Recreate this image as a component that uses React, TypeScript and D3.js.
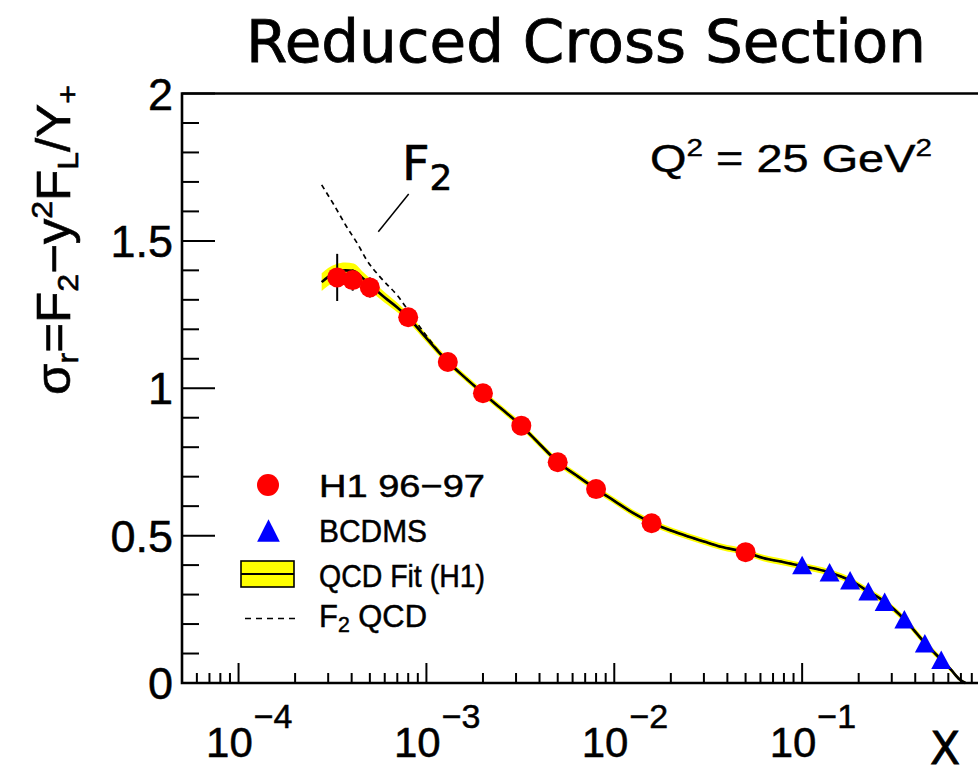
import React from "react";
import * as d3 from "d3";

const W = 978;
const H = 777;

// H1 96-97 reduced cross section at Q^2 = 25 GeV^2
const h1X = [3.35e-4, 4.05e-4, 5.0e-4, 8.0e-4, 1.3e-3, 2.0e-3, 3.2e-3, 5.0e-3, 8.0e-3, 1.58e-2, 5.0e-2];
const h1Y = [1.376, 1.367, 1.342, 1.241, 1.089, 0.983, 0.873, 0.749, 0.658, 0.542, 0.444];
const h1Err = [0.08, 0.036, 0.034, 0.03, 0.025, 0.022, 0.02, 0.018, 0.016, 0.015, 0.015];

// BCDMS
const bcdmsX = [0.1, 0.14, 0.18, 0.225, 0.275, 0.35, 0.45, 0.55];
const bcdmsY = [0.4, 0.376, 0.349, 0.311, 0.276, 0.216, 0.135, 0.079];

// QCD fit (H1): central value and band half-width
const fitX = [
  2.77e-4, 3.0e-4, 3.3e-4, 3.7e-4, 4.1e-4, 4.6e-4, 5.2e-4, 6.0e-4, 7.0e-4, 8.0e-4,
  1.0e-3, 1.3e-3, 1.6e-3, 2.0e-3, 2.5e-3, 3.2e-3, 4.0e-3, 5.0e-3, 6.3e-3, 8.0e-3,
  1.0e-2, 1.25e-2, 1.6e-2, 2.2e-2, 3.0e-2, 3.7e-2, 5.0e-2, 6.2e-2, 8.0e-2, 0.1,
  0.14, 0.18, 0.225, 0.275, 0.35, 0.45, 0.55, 0.62, 0.69, 0.74,
];
const fitY = [
  1.36, 1.378, 1.392, 1.4, 1.398, 1.372, 1.342, 1.308, 1.274, 1.24,
  1.17, 1.09, 1.037, 0.983, 0.931, 0.873, 0.811, 0.75, 0.704, 0.658,
  0.618, 0.578, 0.542, 0.508, 0.48, 0.462, 0.444, 0.424, 0.41, 0.397,
  0.375, 0.348, 0.311, 0.276, 0.216, 0.136, 0.079, 0.045, 0.012, 0.0,
];
const fitErr = [
  0.03, 0.03, 0.029, 0.027, 0.025, 0.022, 0.02, 0.018, 0.016, 0.015,
  0.013, 0.012, 0.011, 0.011, 0.011, 0.011, 0.011, 0.011, 0.011, 0.011,
  0.011, 0.011, 0.011, 0.011, 0.011, 0.011, 0.011, 0.011, 0.011, 0.011,
  0.011, 0.011, 0.011, 0.011, 0.011, 0.011, 0.01, 0.008, 0.006, 0.004,
];

// F2 from the QCD fit, where it departs from sigma_r at low x
const f2LowX = [2.77e-4, 3.2e-4, 3.76e-4, 4.3e-4, 4.81e-4, 5.66e-4, 7.08e-4, 8.6e-4, 1.0e-3];
const f2LowY = [1.69, 1.625, 1.548, 1.49, 1.435, 1.378, 1.311, 1.235, 1.178];

const xDecades = [1e-4, 1e-3, 1e-2, 1e-1];
const xExponents = ["4", "3", "2", "1"];
const yTickLabels = ["0", "0.5", "1", "1.5", "2"];

const x = d3.scaleLog().domain([5e-5, 1]).range([182, 990]);
const y = d3.scaleLinear().domain([0, 2]).range([683, 93.5]);

const fitPts = fitX.map((v, i) => ({ x: v, y: fitY[i], e: fitErr[i] }));
const f2Pts = [
  ...f2LowX.map((v, i) => ({ x: v, y: f2LowY[i] })),
  ...fitPts.filter((d) => d.x > 1.0e-3),
];

const band = d3
  .area<{ x: number; y: number; e: number }>()
  .x((d) => x(d.x))
  .y0((d) => y(d.y - d.e))
  .y1((d) => y(d.y + d.e))
  .curve(d3.curveMonotoneX);

const line = d3
  .line<{ x: number; y: number }>()
  .x((d) => x(d.x))
  .y((d) => y(d.y))
  .curve(d3.curveMonotoneX);

const SANS = "'Liberation Sans', Arial, sans-serif";
const ROUND = "'DejaVu Sans', sans-serif";

function triangle(cx: number, cy: number, w: number, h: number) {
  return `M${cx},${cy - h / 2}L${cx + w / 2},${cy + h / 2}L${cx - w / 2},${cy + h / 2}Z`;
}

export default function App() {
  const xTicks = x.ticks();
  const yTicks = d3.range(0, 21).map((i) => i / 10);
  const [x0, x1] = x.range();
  const [yb, yt] = y.range();

  return (
    <svg width={W} height={H} style={{ display: "block", position: "absolute", left: 0, top: 0, background: "#fff" }}>
      <rect width={W} height={H} fill="#fff" />

      {/* title */}
      <text x={246} y={62} fontFamily={ROUND} fontSize={58} textLength={680} lengthAdjust="spacingAndGlyphs" stroke="#000" strokeWidth={0.8}>
        Reduced Cross Section
      </text>

      {/* fit band, fit line, F2 line */}
      <path d={band(fitPts) ?? ""} fill="#ffff00" stroke="none" />
      <path d={line(fitPts) ?? ""} fill="none" stroke="#000" strokeWidth={2.6} />
      <path d={line(f2Pts) ?? ""} fill="none" stroke="#000" strokeWidth={1.7} strokeDasharray="5,4" />

      {/* H1 points with error bars */}
      {h1X.map((v, i) => (
        <g key={`h1-${i}`}>
          <line x1={x(v)} x2={x(v)} y1={y(h1Y[i] - h1Err[i])} y2={y(h1Y[i] + h1Err[i])} stroke="#000" strokeWidth={2} />
          <circle cx={x(v)} cy={y(h1Y[i])} r={10} fill="#ff0000" />
        </g>
      ))}

      {/* BCDMS points */}
      {bcdmsX.map((v, i) => (
        <path key={`bc-${i}`} d={triangle(x(v), y(bcdmsY[i]), 20, 18.5)} fill="#0000ff" />
      ))}

      {/* frame */}
      <path d={`M${x1},${yt}H${x0}V${yb}H${x1}`} fill="none" stroke="#000" strokeWidth={2.6} />

      {/* y ticks */}
      {yTicks.map((t, i) => {
        const major = i % 5 === 0;
        return <line key={`yt-${i}`} x1={x0} x2={x0 + (major ? 33 : 17)} y1={y(t)} y2={y(t)} stroke="#000" strokeWidth={2} />;
      })}
      <g fontFamily={SANS} fontSize={45} stroke="#000" strokeWidth={0.5}>
        {yTickLabels.map((s, i) => (
          <text key={`yl-${i}`} x={173} y={y(i * 0.5) + 16} textAnchor="end">
            {s}
          </text>
        ))}
      </g>

      {/* x ticks */}
      {xTicks.map((t, i) => {
        const m = Math.round(t / Math.pow(10, Math.floor(Math.log10(t) + 1e-9)));
        const major = m === 1;
        return <line key={`xt-${i}`} x1={x(t)} x2={x(t)} y1={yb} y2={yb - (major ? 20 : 10)} stroke="#000" strokeWidth={2} />;
      })}
      <g fontFamily={SANS} stroke="#000" strokeWidth={0.5}>
        {xDecades.map((d, i) => (
          <text key={`xl-${i}`} x={x(d) - 32.5} y={757} fontSize={42}>
            10
            <tspan fontSize={34} dx={1} dy={-29}>
              {"\u2212" + xExponents[i]}
            </tspan>
          </text>
        ))}
      </g>

      {/* axis titles */}
      <text x={930} y={764} fontFamily={ROUND} fontSize={44} stroke="#000" strokeWidth={0.8}>
        X
      </text>
      <text
        transform="translate(70,240) rotate(-90)"
        fontFamily={SANS}
        fontSize={48}
        textAnchor="middle"
        textLength={310}
        lengthAdjust="spacingAndGlyphs"
        stroke="#000"
        strokeWidth={0.6}
      >
        σ<tspan fontSize={30} dy={8}>r</tspan>
        <tspan dy={-8}>=F</tspan>
        <tspan fontSize={30} dy={8}>2</tspan>
        <tspan dy={-8}>−y</tspan>
        <tspan fontSize={30} dy={-18}>2</tspan>
        <tspan dy={18}>F</tspan>
        <tspan fontSize={30} dy={8}>L</tspan>
        <tspan dy={-8}>/Y</tspan>
        <tspan fontSize={30} dy={8}>+</tspan>
      </text>

      {/* Q^2 label */}
      <text x={650} y={172} fontFamily={SANS} fontSize={38} textLength={282} lengthAdjust="spacingAndGlyphs" stroke="#000" strokeWidth={0.4}>
        Q<tspan fontSize={24} dy={-16}>2</tspan>
        <tspan dy={16}> = 25 GeV</tspan>
        <tspan fontSize={24} dy={-16}>2</tspan>
      </text>

      {/* F2 annotation */}
      <text x={402} y={180} fontFamily={ROUND} fontSize={48} stroke="#000" strokeWidth={0.6}>
        F<tspan fontSize={36} dy={10}>2</tspan>
      </text>
      <line x1={378.3} y1={231.7} x2={408.7} y2={194} stroke="#000" strokeWidth={1.5} />

      {/* legend */}
      <circle cx={268} cy={485} r={11} fill="#ff0000" />
      <path d={triangle(268.5, 530.5, 22.7, 22.3)} fill="#0000ff" />
      <rect x={241} y={561} width={53} height={26} fill="#ffff00" stroke="#000" strokeWidth={1.6} />
      <line x1={241} x2={294} y1={574} y2={574} stroke="#000" strokeWidth={2} />
      <line x1={245} x2={295} y1={618.5} y2={618.5} stroke="#000" strokeWidth={1.6} strokeDasharray="6,5" />
      <g fontFamily={SANS} fontSize={32} stroke="#000" strokeWidth={0.5}>
        <text x={319} y={497} textLength={166} lengthAdjust="spacingAndGlyphs">H1 96−97</text>
        <text x={319} y={542} textLength={108} lengthAdjust="spacingAndGlyphs">BCDMS</text>
        <text x={319} y={587} textLength={166} lengthAdjust="spacingAndGlyphs">QCD Fit (H1)</text>
        <text x={319} y={627} textLength={108} lengthAdjust="spacingAndGlyphs">
          F<tspan fontSize={22} dy={5}>2</tspan>
          <tspan dy={-5}> QCD</tspan>
        </text>
      </g>
    </svg>
  );
}
